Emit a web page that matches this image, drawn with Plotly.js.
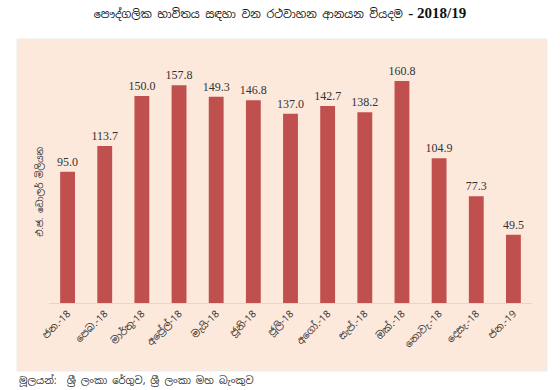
<!DOCTYPE html>
<html>
<head>
<meta charset="utf-8">
<script src="https://cdn.plot.ly/plotly-3.0.1.min.js"></script>
<style>html,body{margin:0;padding:0;background:#fff;}</style>
</head>
<body>
<div id="chart" style="width:560px;height:390px;"></div>
<script>
const months = ["ජන.-18","පෙබ.-18","මාර්තු-18","අප්‍රේල්-18","මැයි-18","ජූනි-18","ජූලි-18","අගෝ.-18","සැප්.-18","ඔක්.-18","නොවැ.-18","දෙසැ.-18","ජන.-19"];
const values = [95.0,113.7,150.0,157.8,149.3,146.8,137.0,142.7,138.2,160.8,104.9,77.3,49.5];
const titleMain = "පෞද්ගලික භාවිතය සඳහා වන රථවාහන ආනයන වියදම";
const titleYear = "- 2018/19";
const yTitle = "එ.ජ. ඩොලර් මිලියන";
const sourceText = "මූලයන්:  ශ්‍රී ලංකා රේගුව, ශ්‍රී ලංකා මහ බැංකුව";

const sinhala = "'Noto Sans Sinhala','Iskoola Pota','Noto Sans',sans-serif";

const trace = {
  type: 'bar',
  x: months,
  y: values,
  marker: {color: '#c0504d'},
  text: values.map(v => v.toFixed(1)),
  textposition: 'outside',
  constraintext: 'none',
  cliponaxis: false,
  textfont: {family: "'Liberation Serif', serif", size: 12, color: '#333'},
  hoverinfo: 'none'
};

const layout = {
  width: 560, height: 390,
  margin: {l: 49, r: 28, t: 60, b: 87},
  paper_bgcolor: '#ffffff',
  plot_bgcolor: 'rgba(0,0,0,0)',
  bargap: 0.6,
  showlegend: false,
  title: {
    text: titleMain + " <span style=\"font-family:'Liberation Serif',serif;font-size:15px;font-weight:bold\">" + titleYear + "</span>",
    font: {family: sinhala, size: 11, color: '#111'},
    x: 0.5, xanchor: 'center', y: 0.965, yanchor: 'middle'
  },
  xaxis: {
    type: 'category',
    showline: true, linecolor: '#d9d9d9', linewidth: 1,
    ticks: '', tickangle: -45,
    tickfont: {family: sinhala, size: 10, color: '#333'},
    showgrid: false, zeroline: false
  },
  yaxis: {
    range: [0, 176],
    showticklabels: false, showgrid: false, zeroline: false, showline: false, ticks: ''
  },
  shapes: [{
    type: 'rect', xref: 'paper', yref: 'paper', layer: 'below',
    x0: -0.0663, x1: 1.031, y0: -0.2798, y1: 1.0864,
    fillcolor: '#fde9dc', line: {color: '#ececec', width: 1}
  }],
  annotations: [{
    text: yTitle, xref: 'paper', yref: 'paper',
    x: -0.019, y: 0.457, xanchor: 'center', yanchor: 'middle', textangle: -90,
    showarrow: false, font: {family: sinhala, size: 9, color: '#333'}
  }, {
    text: sourceText, xref: 'paper', yref: 'paper',
    x: -0.066, y: -0.317, xanchor: 'left', yanchor: 'middle',
    showarrow: false, font: {family: sinhala, size: 10, color: '#333'}
  }]
};

Plotly.newPlot('chart', [trace], layout, {displayModeBar: false, staticPlot: true});
</script>
</body>
</html>
